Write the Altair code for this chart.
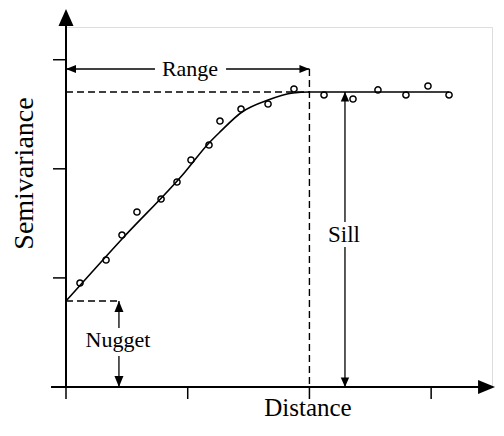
import altair as alt
import pandas as pd

FONT = "Liberation Serif"
X_DOMAIN = [0, 3.5]
Y_DOMAIN = [0, 3.3]

pt_x = [0.115, 0.329, 0.460, 0.583, 0.781, 0.912, 1.027, 1.175, 1.265, 1.438,
        1.660, 1.873, 2.120, 2.358, 2.563, 2.793, 2.974, 3.147]
pt_y = [0.953, 1.164, 1.393, 1.604, 1.723, 1.879, 2.081, 2.218, 2.438, 2.548,
        2.594, 2.732, 2.677, 2.640, 2.723, 2.677, 2.759, 2.677]

# fitted model curve
curve_x = [0.0, 0.460, 0.978, 1.167, 1.265, 1.446, 1.660, 1.865, 1.996, 3.147]
curve_y = [0.788, 1.357, 1.971, 2.228, 2.338, 2.521, 2.631, 2.695, 2.704, 2.704]

nugget = 0.788
sill = 2.704
rng = 2.0
range_y = 2.915
nugget_x = 0.435
sill_x = 2.292

x_ticks = [0, 1, 2, 3]
y_ticks = [1, 2, 3]

xs = alt.Scale(domain=X_DOMAIN, nice=False, zero=False)
ys = alt.Scale(domain=Y_DOMAIN, nice=False, zero=False)


def rules(rows):
    return pd.DataFrame(rows, columns=["x", "x2", "y", "y2"])


# axis lines
axis_df = rules([
    [-0.123, 3.45, 0, 0],
    [0, 0, 0, 3.36],
])
# ticks
tick_df = rules(
    [[-0.107, 0, v, v] for v in y_ticks] + [[v, v, 0, -0.11] for v in x_ticks]
)
# annotation arrows (solid)
arrow_df = rules([
    [0, 0.731, range_y, range_y],
    [1.315, rng, range_y, range_y],
    [nugget_x, nugget_x, nugget, 0.541],
    [nugget_x, nugget_x, 0.284, 0],
    [sill_x, sill_x, sill, 1.5125],
    [sill_x, sill_x, 1.283, 0],
])
# dashed guides
dash_df = rules([
    [0, rng, sill, sill],
    [rng, rng, range_y, 0],
    [0, 0.444, nugget, nugget],
])


def rule_layer(df, width, dash=None):
    kw = dict(color="black", strokeWidth=width)
    if dash:
        kw["strokeDash"] = dash
    return alt.Chart(df).mark_rule(**kw).encode(
        x=alt.X("x:Q", scale=xs, axis=None),
        x2="x2:Q",
        y=alt.Y("y:Q", scale=ys, axis=None),
        y2="y2:Q",
    )


# arrow heads: custom shapes, tip at (0,0)
heads = pd.DataFrame([
    # x, y, shape
    [3.525, 0, "M0,0 L-1.7,-0.7 L-1.7,0.7 Z"],      # x-axis
    [0, 3.465, "M0,0 L0.75,1.7 L-0.75,1.7 Z"],      # y-axis
    [0, range_y, "M0,0 L1,-0.4 L1,0.4 Z"],          # range left
    [rng, range_y, "M0,0 L-1,-0.4 L-1,0.4 Z"],      # range right
    [nugget_x, nugget, "M0,0 L0.45,1.1 L-0.45,1.1 Z"],
    [nugget_x, 0, "M0,0 L0.45,-1.1 L-0.45,-1.1 Z"],
    [sill_x, sill, "M0,0 L0.42,0.95 L-0.42,0.95 Z"],
    [sill_x, 0, "M0,0 L0.42,-0.95 L-0.42,-0.95 Z"],
], columns=["x", "y", "shape"])

head_layer = alt.Chart(heads).mark_point(
    filled=True, color="black", opacity=1, size=400, strokeWidth=0
).encode(
    x=alt.X("x:Q", scale=xs, axis=None),
    y=alt.Y("y:Q", scale=ys, axis=None),
    shape=alt.Shape("shape:N", scale=None, legend=None),
)

curve_df = pd.DataFrame({"x": curve_x, "y": curve_y})
curve_layer = alt.Chart(curve_df).mark_line(
    color="black", strokeWidth=1.6, interpolate="monotone"
).encode(
    x=alt.X("x:Q", scale=xs, axis=None),
    y=alt.Y("y:Q", scale=ys, axis=None),
)

pts_df = pd.DataFrame({"x": pt_x, "y": pt_y})
pts_layer = alt.Chart(pts_df).mark_point(
    shape="circle", filled=False, color="black", size=38, strokeWidth=1.5, opacity=1
).encode(
    x=alt.X("x:Q", scale=xs, axis=None),
    y=alt.Y("y:Q", scale=ys, axis=None),
)

labels = pd.DataFrame([
    ["Range", 1.019, 2.851, 22],
    ["Nugget", 0.427, 0.367, 22],
    ["Sill", 2.284, 1.329, 23],
    ["Distance", 1.988, -0.266, 25],
], columns=["text", "x", "y", "size"])

text_layer = alt.Chart(labels).mark_text(
    font=FONT, color="black", align="center", baseline="alphabetic"
).encode(
    x=alt.X("x:Q", scale=xs, axis=None),
    y=alt.Y("y:Q", scale=ys, axis=None),
    text="text:N",
    size=alt.Size("size:Q", scale=None, legend=None),
)

ylab = pd.DataFrame([["Semivariance", -0.271, 1.957]], columns=["text", "x", "y"])
ylab_layer = alt.Chart(ylab).mark_text(
    font=FONT, color="black", align="center", baseline="alphabetic",
    angle=270, fontSize=28
).encode(
    x=alt.X("x:Q", scale=xs, axis=None),
    y=alt.Y("y:Q", scale=ys, axis=None),
    text="text:N",
)

chart = alt.layer(
    rule_layer(dash_df, 1.4, [7, 4]),
    rule_layer(axis_df, 2),
    rule_layer(tick_df, 1.5),
    rule_layer(arrow_df, 1.3),
    curve_layer,
    pts_layer,
    head_layer,
    text_layer,
    ylab_layer,
).properties(
    width=426,
    height=360,
    autosize=alt.AutoSizeParams(type="none"),
    padding={"left": 58, "top": 19, "right": 4, "bottom": 35},
).configure_view(stroke=None).configure(background="white")

chart.save("out.html", embed_options={"renderer": "svg", "actions": False})
